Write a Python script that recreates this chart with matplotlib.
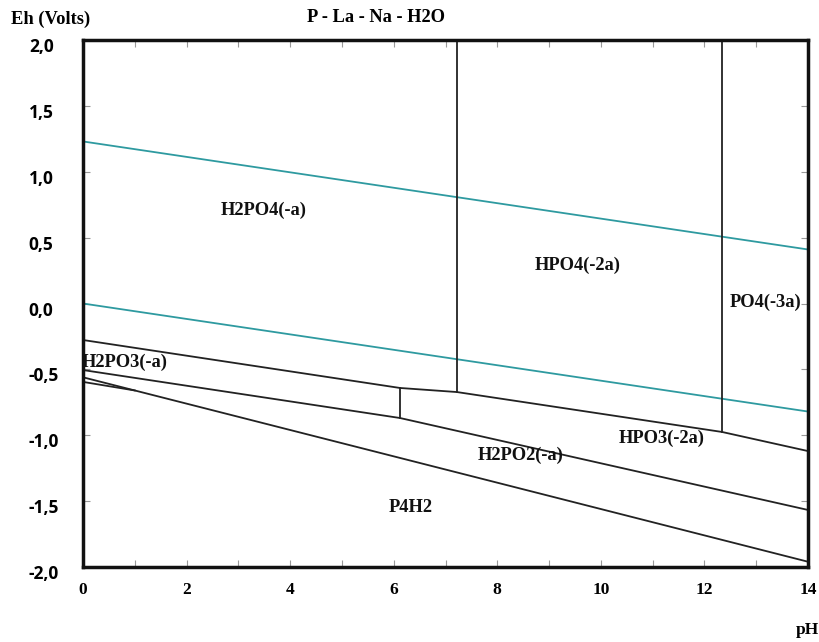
"""
Eh-pH diagram for P - La - Na - H2O
"""
import matplotlib
matplotlib.use("Agg")
import matplotlib.pyplot as plt
import matplotlib.transforms as mtransforms
from matplotlib.ticker import MultipleLocator, FuncFormatter

# water stability lines (pH, Eh)
o2_ph = [0, 14]
o2_eh = [1.23, 0.41]
h2_ph = [0, 14]
h2_eh = [0.0, -0.82]

# species boundaries (pH, Eh)
boundaries = [
    ([7.22, 7.22], [2.0, -0.672]),
    ([12.34, 12.34], [2.0, -0.975]),
    ([0, 6.12, 7.22, 12.34, 14], [-0.277, -0.641, -0.672, -0.975, -1.12]),
    ([6.12, 6.12], [-0.641, -0.869]),
    ([0, 6.12, 14], [-0.505, -0.869, -1.567]),
    ([0, 14], [-0.56, -1.96]),
    ([0, 1.0], [-0.595, -0.66]),
]

# region labels
species = ["H2PO4(-a)", "HPO4(-2a)", "PO4(-3a)", "H2PO3(-a)",
           "HPO3(-2a)", "H2PO2(-a)", "P4H2"]
species_ph = [3.48, 9.55, 13.18, 0.8, 11.18, 8.45, 6.33]
species_eh = [0.71, 0.29, 0.01, -0.45, -1.02, -1.15, -1.545]

serif = "Liberation Serif"

fig = plt.figure(figsize=(8.2, 6.42), dpi=100)
ax = fig.add_axes([0.1012, 0.1168, 0.8842, 0.8209])

ax.plot(o2_ph, o2_eh, color="#2e9aa0", lw=1.3)
ax.plot(h2_ph, h2_eh, color="#2e9aa0", lw=1.3)
for bx, by in boundaries:
    ax.plot(bx, by, color="#222222", lw=1.3)

for name, px, py in zip(species, species_ph, species_eh):
    ax.text(px, py, name, ha="center", va="center", fontsize=13.3,
            fontweight="bold", family=serif, color="#111111")

ax.set_xlim(0, 14)
ax.set_ylim(-2, 2)
ax.xaxis.set_major_locator(MultipleLocator(2))
ax.xaxis.set_minor_locator(MultipleLocator(1))
ax.yaxis.set_major_locator(MultipleLocator(0.5))
ax.yaxis.set_major_formatter(FuncFormatter(lambda v, p: f"{v:.1f}".replace(".", ",")))

ax.tick_params(which="both", direction="in", top=True, right=True,
               length=5, width=0.8, color="#999999")
ax.tick_params(axis="x", pad=11)
ax.tick_params(axis="y", pad=39)
for lab in ax.get_xticklabels():
    lab.set_family(serif)
    lab.set_fontweight("bold")
    lab.set_fontsize(12.5)

# y labels are left aligned and sit a little below their ticks
shift = mtransforms.ScaledTranslation(0, -0.05, fig.dpi_scale_trans)
for lab in ax.get_yticklabels():
    lab.set_family("Open Sans")
    lab.set_fontweight("bold")
    lab.set_fontsize(12.5)
    lab.set_horizontalalignment("left")
    lab.set_transform(lab.get_transform() + shift)

for sp in ax.spines.values():
    sp.set_linewidth(2.5)
    sp.set_color("#111111")

fig.text(0.459, 0.973, "P - La - Na - H2O", ha="center", va="center",
         fontsize=13.3, fontweight="bold", family=serif)
fig.text(0.062, 0.970, "Eh (Volts)", ha="center", va="center",
         fontsize=13.3, fontweight="bold", family=serif)
fig.text(0.985, 0.019, "pH", ha="center", va="center",
         fontsize=12.5, fontweight="bold", family=serif)

fig.savefig("out.png", dpi=100)
